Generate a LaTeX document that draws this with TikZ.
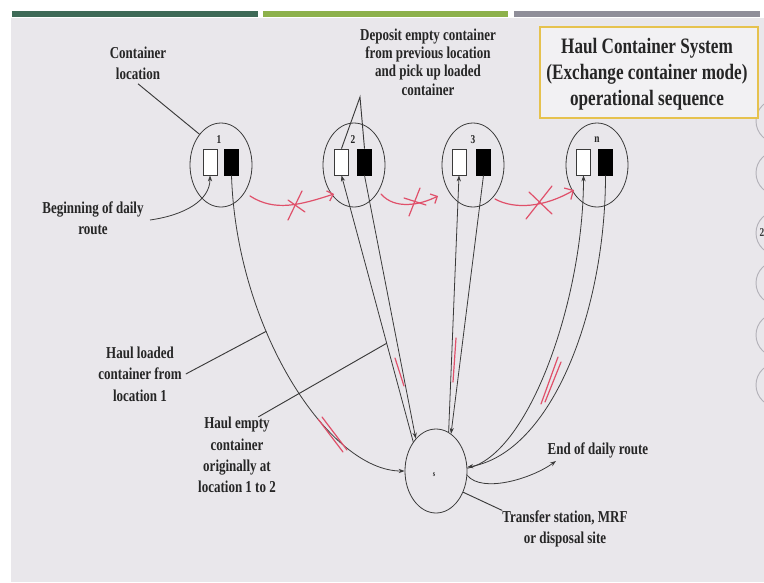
\documentclass[tikz,border=0pt]{standalone}
\usepackage{fontspec}
\setmainfont{Liberation Serif}[FakeStretch=0.78]
\usetikzlibrary{positioning,arrows.meta,shapes.geometric}

\definecolor{slidebg}{HTML}{E9E7EB}
\definecolor{bardark}{HTML}{3E6A57}
\definecolor{barlight}{HTML}{8DB14B}
\definecolor{bargray}{HTML}{8F8E99}
\definecolor{framegold}{HTML}{E6C24E}
\definecolor{inkgray}{HTML}{262626}
\definecolor{linegray}{HTML}{3A3A3A}
\definecolor{navgray}{HTML}{B4B2B9}
\definecolor{penred}{HTML}{E0506A}

\begin{document}
\begin{tikzpicture}[x=0.75pt,y=-0.75pt,
    >={Stealth[length=4.5pt,width=3.2pt]},
    place/.style={draw=linegray, line width=0.6pt, ellipse, minimum width=46.5pt,
      minimum height=63pt, inner sep=0pt},
    emptybox/.style={draw=linegray, line width=0.6pt, fill=white, minimum width=10.5pt,
      minimum height=19.5pt, inner sep=0pt},
    fullbox/.style={emptybox, draw=black, fill=black},
    num/.style={font=\bfseries\fontsize{9}{9}\selectfont, text=inkgray, inner sep=0pt},
    note/.style={font=\bfseries\fontsize{12.5}{16}\selectfont, text=inkgray, align=center, inner sep=0pt},
    route/.style={draw=linegray, line width=0.6pt},
    leader/.style={draw=linegray, line width=0.7pt},
    pen/.style={draw=penred, line width=0.9pt, line cap=round, line join=round}]

    % Slide frame
    \useasboundingbox (0,0) rectangle (764,582);
    \fill[white] (0,0) rectangle (764,582);
    \fill[slidebg] (11,18) rectangle (764,582);
    \fill[bardark] (12,11) rectangle (258,17);
    \fill[barlight] (263,11) rectangle (508,17);
    \fill[bargray] (514,11) rectangle (760,17);
    \begin{scope}
      \clip (0,0) rectangle (764,582);
      \foreach \yy in {121,173,233,283,335,385}
        \draw[navgray, line width=0.7pt] (778,\yy) circle (16.5pt);
      \node[num, text=linegray] (navtwo) at (762,233) {2};
    \end{scope}

    % Title
    \draw[framegold, line width=1.6pt, fill=white!40!slidebg] (540,27) rectangle (758,118);
    \node[note, font=\bfseries\fontsize{16.5}{19.5}\selectfont] (title) at (647,74)
      {Haul Container System\\(Exchange container mode)\\operational sequence};

    % Set locations
    \node[place] (loc1) at (221,165) {};
    \node[place] (loc2) at (354,165) {};
    \node[place] (loc3) at (473,165) {};
    \node[place] (locn) at (597,165) {};
    \node[place] (site) at (436,471) {};

    \node[num] (n1) at (219,140) {1};
    \node[num] (n2) at (353,140) {2};
    \node[num] (n3) at (473,140) {3};
    \node[num] (nn) at (597,140) {n};
    \node[num, font=\bfseries\fontsize{6}{6}\selectfont] (sl) at (434,475) {s};

    % Containers
    \node[emptybox] (e1) at (210,162) {};
    \node[fullbox]  (f1) at (231.5,162) {};
    \node[emptybox] (e2) at (341.5,162) {};
    \node[fullbox]  (f2) at (364.5,162) {};
    \node[emptybox] (e3) at (459,162) {};
    \node[fullbox]  (f3) at (483.5,162) {};
    \node[emptybox] (en) at (583.5,162) {};
    \node[fullbox]  (fn) at (605.5,162) {};

    % Labels
    \node[note] (cloc) at (138,63) {Container\\location};
    \node[note] (begin) at (93,218) {Beginning of daily\\route};
    \node[note, font=\bfseries\fontsize{12.5}{13.7}\selectfont] (dep) at (428,62)
      {Deposit empty container\\from previous location\\and pick up loaded\\container};
    \node[note] (hl) at (140,374) {Haul loaded\\container from\\location 1};
    \node[note] (he) at (237,455) {Haul empty\\container\\originally at\\location 1 to 2};
    \node[note] (eod) at (598,450) {End of daily route};
    \node[note] (ts) at (565,529) {Transfer station, MRF\\or disposal site};

    \coordinate (depapex) at (360,97);
    \coordinate (beginpt) at (150,220);
    \coordinate (endtip) at (556,461);

    % Draw routes
    \draw[route,->] (beginpt) .. controls +(35,-5) and +(0,25) .. (e1.south);
    \draw[route,->] (f1.south) .. controls +(5,155) and +(-75,0) .. (site.west)
      coordinate[pos=0.36] (hlpt);
    \draw[route,->] (site.128) -- (e2.south) coordinate[pos=0.37] (hept);
    \draw[route,->] (f2.south) -- (site.122);
    \draw[route,->] (site.72) -- (e3.south);
    \draw[route,->] (f3.south) -- (site.68);
    \draw[route,->] (site.5) .. controls +(62,-13) and +(0,123) .. (en.south);
    \draw[route,->] (fn.south) .. controls +(0,135) and +(85,-15) .. (site.7);
    \draw[route,->] (site.-8) .. controls +(15,18) and +(-25,18) .. (endtip);

    % Leader lines
    \draw[leader] (cloc.south) ++(0,4) -- (loc1.125);
    \draw[leader] (e2.north) -- (depapex) -- (f2.north);
    \draw[leader] ([xshift=3pt]hl.east) -- (hlpt);
    \draw[leader] ([xshift=16pt]he.north) -- (hept);
    \draw[leader] (site.-38) -- (ts.north west);

    % Hand-drawn marks
    \draw[pen,-{Straight Barb[length=4pt]}] (250,196) .. controls (275,212) and (300,205) .. (334,194);
    \draw[pen] (288,220) -- (302,191); \draw[pen] (288,200) -- (305,212);
    \draw[pen,-{Straight Barb[length=4pt]}] (381,194) .. controls (395,210) and (420,205) .. (438,196);
    \draw[pen] (409,216) -- (420,188); \draw[pen] (404,198) -- (426,205);
    \draw[pen,-{Straight Barb[length=5pt]}] (495,199) .. controls (515,210) and (545,207) .. (574,190);
    \draw[pen] (526,219) -- (552,186); \draw[pen] (529,192) -- (552,214);
    \draw[pen] (318,419) -- (343,452); \draw[pen] (322,417) -- (347,450);
    \draw[pen] (395,358) -- (404,386);
    \draw[pen] (456,338) -- (453,382);
    \draw[pen] (558,357) -- (541,404); \draw[pen] (561,362) -- (545,402);
  \end{tikzpicture}
\end{document}
